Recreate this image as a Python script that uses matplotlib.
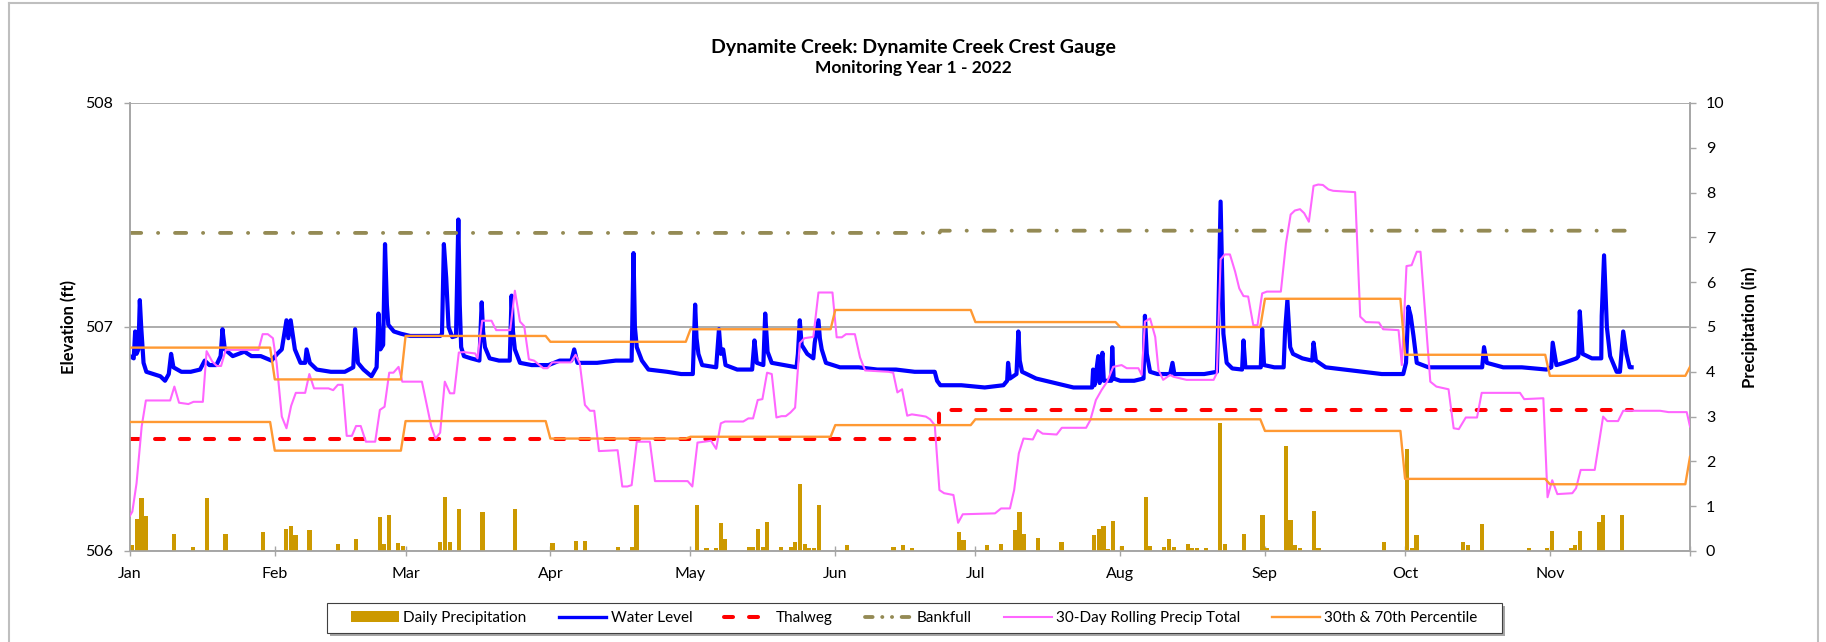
import numpy as np
import pandas as pd
import matplotlib
matplotlib.use("Agg")
import matplotlib.pyplot as plt
from matplotlib.patches import Patch, Rectangle
from matplotlib.lines import Line2D

plt.rcParams['font.family'] = ['Lato', 'DejaVu Sans']

# ---------------- data (day 0 = 2022-01-01) ----------------
title = "Dynamite Creek: Dynamite Creek Crest Gauge"
subtitle = "Monitoring Year 1 - 2022"
month_labels = ['Jan', 'Feb', 'Mar', 'Apr', 'May', 'Jun', 'Jul', 'Aug', 'Sep', 'Oct', 'Nov', '']
month_start_days = [0, 31, 59, 90, 120, 151, 181, 212, 243, 273, 304, 334]

# water level (ft) : (day, elevation)
water_level = [
    (0.0, 506.87), (0.8, 506.86), (1.1, 506.98), (1.4, 506.88), (1.8, 506.90), (2.1, 507.12), (2.4, 507.00),
    (2.9, 506.84), (3.5, 506.80), (5.0, 506.79), (6.5, 506.78), (7.5, 506.76), (8.3, 506.79), (8.8, 506.88),
    (9.3, 506.82), (11.0, 506.80), (13.0, 506.80), (15.0, 506.81), (16.0, 506.85), (17.0, 506.83), (18.5, 506.83),
    (19.4, 506.87), (19.8, 506.99), (20.3, 506.90), (22.0, 506.87), (24.5, 506.89), (26.0, 506.87), (28.0, 506.87),
    (30.3, 506.85), (31.5, 506.88), (32.5, 506.90), (33.5, 507.03), (33.9, 506.95), (34.4, 507.03), (35.3, 506.90),
    (36.5, 506.84), (37.5, 506.84), (37.8, 506.90), (38.5, 506.84), (40.0, 506.81), (43.0, 506.80), (46.0, 506.80),
    (47.8, 506.82), (48.2, 506.99), (48.8, 506.84), (50.0, 506.81), (51.7, 506.78), (52.8, 506.82), (53.2, 507.06),
    (53.6, 506.90), (54.2, 506.92), (54.6, 507.37), (55.0, 507.10), (55.3, 507.01), (56.5, 506.98), (58.0, 506.97),
    (60.0, 506.96), (63.0, 506.96), (66.4, 506.96), (66.8, 506.97), (67.2, 507.37), (67.7, 507.22), (68.2, 507.00),
    (69.0, 506.955), (69.8, 506.96), (70.3, 507.48), (70.6, 507.10), (70.9, 506.91), (71.5, 506.87), (73.0, 506.86),
    (74.8, 506.85), (75.3, 507.11), (75.6, 506.98), (76.0, 506.91), (77.0, 506.86), (79.0, 506.85), (81.3, 506.85),
    (81.7, 507.14), (82.0, 506.98), (82.4, 506.90), (83.5, 506.84), (86.0, 506.83), (89.6, 506.83), (92.0, 506.85),
    (94.5, 506.85), (95.1, 506.90), (95.8, 506.84), (100.0, 506.84), (104.0, 506.85), (107.4, 506.85), (107.8, 507.33),
    (108.1, 507.00), (108.5, 506.91), (109.6, 506.85), (111.0, 506.81), (115.0, 506.80), (118.0, 506.79),
    (120.5, 506.79), (121.0, 507.10), (121.3, 506.95), (121.7, 506.88), (122.5, 506.83), (125.5, 506.82),
    (126.1, 506.99), (126.5, 506.88), (127.0, 506.90), (127.5, 506.83), (130.0, 506.81), (133.2, 506.81),
    (133.7, 506.94), (134.2, 506.84), (135.6, 506.83), (136.0, 507.06), (136.5, 506.89), (137.4, 506.84),
    (140.0, 506.83), (142.7, 506.82), (143.0, 506.88), (143.4, 507.03), (143.8, 506.92), (145.0, 506.88),
    (146.3, 506.86), (146.6, 506.93), (147.4, 507.03), (147.7, 506.95), (148.1, 506.90), (149.0, 506.84),
    (152.0, 506.82), (156.0, 506.82), (160.0, 506.81), (164.0, 506.81), (168.0, 506.80), (172.3, 506.80),
    (172.8, 506.76), (173.5, 506.74), (178.0, 506.74), (183.0, 506.73), (187.0, 506.74), (187.8, 506.76),
    (188.0, 506.84), (188.4, 506.77), (189.8, 506.79), (190.2, 506.98), (190.5, 506.85), (191.0, 506.80),
    (194.0, 506.77), (198.0, 506.75), (202.0, 506.73), (206.0, 506.73), (206.2, 506.81), (206.5, 506.74),
    (207.3, 506.87), (207.6, 506.75), (208.2, 506.885), (208.5, 506.76), (210.1, 506.76), (210.3, 506.91),
    (210.6, 506.77), (212.0, 506.76), (215.0, 506.76), (217.0, 506.77), (217.3, 507.05), (217.7, 506.88),
    (218.4, 506.80), (220.0, 506.79), (222.7, 506.79), (223.2, 506.84), (223.6, 506.79), (227.0, 506.79),
    (230.0, 506.79), (232.7, 506.80), (233.0, 507.03), (233.5, 507.56), (234.1, 506.97), (234.8, 506.84),
    (236.0, 506.815), (238.1, 506.81), (238.4, 506.94), (238.8, 506.82), (242.1, 506.82), (242.4, 506.99),
    (242.8, 506.83), (245.0, 506.82), (247.0, 506.82), (247.3, 506.98), (247.8, 507.12), (248.4, 506.91),
    (249.0, 506.88), (251.0, 506.86), (253.1, 506.85), (253.4, 506.93), (253.9, 506.85), (256.0, 506.82),
    (260.0, 506.81), (264.0, 506.80), (268.0, 506.79), (272.6, 506.79), (273.2, 506.84), (273.7, 507.09),
    (274.2, 507.05), (274.8, 506.96), (275.5, 506.84), (278.0, 506.82), (282.0, 506.82), (286.0, 506.82),
    (289.5, 506.82), (289.9, 506.91), (290.5, 506.84), (294.0, 506.82), (298.0, 506.82), (303.3, 506.81),
    (304.3, 506.82), (304.6, 506.93), (305.4, 506.83), (307.0, 506.84), (309.7, 506.86), (310.1, 506.87),
    (310.4, 507.07), (311.0, 506.88), (313.0, 506.86), (315.0, 506.86), (315.1, 507.05), (315.6, 507.32),
    (316.2, 507.00), (316.9, 506.87), (318.3, 506.80), (319.0, 506.80), (319.7, 506.98), (320.4, 506.88),
    (321.1, 506.82), (321.5, 506.82),
]

# thalweg and bankfull elevations (ft)
thalweg_day = [0.0, 173.3, 173.3, 321.5]
thalweg_elev = [506.50, 506.50, 506.63, 506.63]
bankfull_day = [0.0, 173.3, 173.6, 321.5]
bankfull_elev = [507.42, 507.42, 507.43, 507.43]

# daily precipitation (in)
precip_day = [0, 1, 2, 3, 9, 13, 16, 20, 28, 33, 34, 35, 38, 44, 48, 53, 54, 55, 57, 58, 66, 67, 68, 70, 75, 82,
              90, 95, 97, 104, 107, 108, 121, 123, 125, 126, 127, 132, 133, 134, 135, 136, 139, 141, 142, 143, 144,
              145, 146, 147, 153, 163, 165, 167, 177, 178, 183, 186, 189, 190, 191, 194, 199, 206, 207, 208, 209,
              210, 212, 217, 218, 221, 222, 223, 226, 227, 228, 230, 233, 234, 238, 242, 243, 247, 248, 249, 250,
              253, 254, 268, 273, 274, 275, 285, 286, 289, 299, 303, 304, 308, 309, 310, 314, 315, 319]
precip_in = [0.13, 0.71, 1.18, 0.79, 0.37, 0.08, 1.18, 0.39, 0.43, 0.50, 0.55, 0.36, 0.47, 0.16, 0.27, 0.75, 0.16,
             0.80, 0.17, 0.12, 0.19, 1.20, 0.19, 0.94, 0.86, 0.94, 0.17, 0.23, 0.23, 0.08, 0.08, 1.02, 1.03, 0.06,
             0.06, 0.62, 0.26, 0.09, 0.09, 0.48, 0.08, 0.65, 0.08, 0.10, 0.19, 1.49, 0.16, 0.06, 0.06, 1.02, 0.13,
             0.08, 0.13, 0.07, 0.42, 0.24, 0.13, 0.16, 0.46, 0.86, 0.37, 0.28, 0.19, 0.36, 0.48, 0.56, 0.05, 0.67,
             0.11, 1.21, 0.12, 0.10, 0.27, 0.10, 0.15, 0.06, 0.06, 0.06, 2.85, 0.16, 0.37, 0.81, 0.07, 2.35, 0.69,
             0.13, 0.07, 0.90, 0.07, 0.19, 2.27, 0.06, 0.35, 0.21, 0.13, 0.60, 0.06, 0.06, 0.45, 0.06, 0.13, 0.45,
             0.64, 0.81, 0.81]

# 30-day rolling precipitation total (in) : (day, total)
rolling_total = [
    (0.0, 0.79), (0.5, 0.88), (1.4, 1.51), (2.5, 2.78), (3.4, 3.36), (8.6, 3.36), (9.5, 3.67), (10.5, 3.31),
    (12.5, 3.28), (13.6, 3.33), (15.6, 3.33), (16.4, 4.46), (17.6, 4.23), (18.6, 4.13), (19.5, 4.13), (20.5, 4.49),
    (27.5, 4.49), (28.4, 4.84), (29.5, 4.84), (30.6, 4.75), (31.4, 4.19), (32.5, 3.00), (33.5, 2.74), (34.5, 3.24),
    (35.5, 3.53), (37.5, 3.53), (38.4, 3.95), (39.4, 3.63), (42.5, 3.63), (43.5, 3.59), (44.5, 3.71), (45.5, 3.71),
    (46.4, 2.57), (47.5, 2.57), (48.4, 2.79), (49.4, 2.79), (50.5, 2.44), (52.5, 2.44), (53.5, 3.15), (54.5, 3.22),
    (55.5, 3.98), (56.4, 3.98), (57.5, 4.11), (58.3, 3.78), (62.5, 3.78), (64.5, 2.78), (65.4, 2.51), (66.4, 2.64),
    (67.4, 3.78), (68.5, 3.52), (69.4, 3.52), (70.4, 4.43), (71.4, 4.44), (73.9, 4.41), (74.4, 4.30), (75.4, 5.14),
    (77.4, 5.14), (78.4, 4.93), (81.4, 4.93), (82.4, 5.81), (83.5, 5.12), (84.4, 5.02), (85.4, 4.28), (86.5, 4.25),
    (88.5, 4.08), (89.4, 4.08), (90.4, 4.21), (94.4, 4.21), (95.4, 4.38), (96.3, 4.19), (97.4, 3.26), (98.5, 3.13),
    (99.4, 3.13), (100.4, 2.23), (104.4, 2.25), (105.4, 1.44), (106.5, 1.44), (107.4, 1.47), (108.5, 2.44),
    (111.3, 2.44), (112.4, 1.56), (119.4, 1.56), (120.4, 1.44), (121.5, 2.42), (124.4, 2.46), (125.5, 2.28),
    (126.5, 2.85), (127.4, 2.89), (131.3, 2.89), (132.4, 2.96), (133.4, 2.96), (134.4, 3.37), (135.4, 3.39),
    (136.4, 3.98), (137.4, 3.95), (138.4, 2.98), (139.5, 3.01), (140.4, 3.01), (141.4, 3.09), (142.4, 3.20),
    (143.4, 4.64), (144.4, 4.75), (146.3, 4.78), (147.4, 5.77), (150.4, 5.77), (151.3, 4.77), (152.4, 4.77),
    (153.3, 4.84), (155.2, 4.84), (156.3, 4.32), (157.4, 4.03), (162.4, 4.00), (163.4, 3.98), (164.3, 3.54),
    (165.3, 3.61), (166.4, 3.02), (167.4, 3.05), (169.3, 3.02), (170.4, 3.00), (171.3, 2.94), (172.3, 2.81),
    (173.3, 1.36), (174.3, 1.29), (176.3, 1.25), (177.3, 0.63), (178.3, 0.82), (185.2, 0.84), (186.5, 0.95),
    (188.4, 0.95), (189.3, 1.36), (190.3, 2.18), (191.3, 2.51), (193.3, 2.49), (194.3, 2.70), (195.4, 2.62),
    (198.4, 2.60), (199.5, 2.75), (204.7, 2.75), (205.6, 2.92), (206.8, 3.37), (208.0, 3.59), (209.2, 3.78),
    (210.5, 4.11), (212.3, 4.15), (213.4, 4.08), (215.9, 4.08), (216.6, 3.93), (217.3, 5.12), (218.4, 5.19),
    (219.5, 4.78), (220.2, 4.04), (221.2, 3.82), (222.7, 3.93), (223.4, 3.89), (226.2, 3.82), (232.0, 3.82),
    (232.7, 3.97), (233.5, 6.51), (234.4, 6.62), (235.5, 6.62), (236.6, 6.24), (237.5, 5.86), (238.4, 5.69),
    (239.4, 5.68), (240.5, 5.04), (241.4, 5.04), (242.4, 5.75), (243.4, 5.79), (246.4, 5.79), (247.5, 6.87),
    (248.5, 7.51), (249.4, 7.60), (250.5, 7.63), (251.4, 7.54), (252.4, 7.35), (253.4, 8.15), (254.4, 8.18),
    (255.4, 8.17), (256.6, 8.07), (257.6, 8.04), (262.3, 8.01), (263.4, 5.23), (264.6, 5.11), (267.4, 5.10),
    (268.3, 4.95), (271.6, 4.93), (272.3, 4.15), (273.3, 6.36), (274.4, 6.38), (275.5, 6.68), (276.3, 6.68),
    (278.4, 3.78), (279.7, 3.67), (282.3, 3.61), (283.4, 2.74), (284.5, 2.72), (286.0, 2.98), (288.4, 2.98),
    (289.4, 3.53), (297.6, 3.53), (298.5, 3.39), (302.6, 3.41), (303.5, 1.20), (304.5, 1.58), (305.6, 1.27),
    (308.8, 1.29), (309.6, 1.40), (310.6, 1.81), (313.6, 1.81), (315.4, 3.00), (316.3, 2.90), (318.6, 2.90),
    (319.7, 3.13), (327.6, 3.13), (329.4, 3.10), (333.3, 3.10), (334.0, 2.78),
]

# monthly 30th / 70th percentile of 30-day totals (in), Jan..Dec
pct70 = [4.54, 3.83, 4.80, 4.67, 4.95, 5.38, 5.11, 5.00, 5.63, 4.38, 3.91, 4.11]
pct30 = [2.88, 2.24, 2.90, 2.51, 2.55, 2.81, 2.94, 2.94, 2.68, 1.61, 1.49, 2.10]

# ---------------- helpers ----------------
T0 = pd.Timestamp('2022-01-01')
def to_dates(days):
    return T0 + pd.to_timedelta(np.asarray(days, dtype=float), unit='D')

W, H = 1826, 642
fig = plt.figure(figsize=(W / 100, H / 100), dpi=100)
ax = fig.add_axes([130 / W, 1 - 551 / H, 1560 / W, 448 / H])
ax2 = ax.twinx()

GRAY = '#A6A6A6'
C_BAR, C_WL, C_TH, C_BF, C_ROLL, C_PCT = '#CC9900', '#0000FF', '#FF0000', '#948A54', '#FF66FF', '#FF9933'

# primary axis: elevations
wl_d, wl_v = zip(*water_level)
ax.plot(to_dates(wl_d), wl_v, color=C_WL, lw=3.0, solid_joinstyle='round', zorder=3)
ax.plot(to_dates(thalweg_day), thalweg_elev, color=C_TH, lw=2.9, dashes=(2.24, 3.97),
        dash_capstyle='round', zorder=3)
ax.plot(to_dates(bankfull_day), bankfull_elev, color=C_BF, lw=2.75, dashes=(2.93, 4.4, 0.05, 4.4),
        dash_capstyle='round', zorder=3)

# secondary axis: precipitation
ax2.bar(to_dates(np.array(precip_day) + 0.45), precip_in, width=0.9, color=C_BAR, zorder=2)
r_d, r_v = zip(*rolling_total)
ax2.plot(to_dates(r_d), r_v, color=C_ROLL, lw=1.5, zorder=3)
daily = np.arange(0, 335)
midx = np.searchsorted(month_start_days, daily, side='right') - 1
ax2.plot(to_dates(daily), np.array(pct70)[midx], color=C_PCT, lw=1.7, zorder=4)
ax2.plot(to_dates(daily), np.array(pct30)[midx], color=C_PCT, lw=1.7, zorder=4)

# axes setup
ax.set_xlim(to_dates([0])[0], to_dates([334])[0])
ax.set_ylim(506, 508)
ax2.set_ylim(0, 10)
ax.set_yticks([506, 507, 508])
ax2.set_yticks(range(0, 11))
ax.set_xticks(to_dates(month_start_days))
ax.set_xticklabels(month_labels)

ax.yaxis.grid(True, color=GRAY, lw=1.3)
ax.set_axisbelow(True)
for a in (ax, ax2):
    for s in a.spines.values():
        s.set_color(GRAY)
        s.set_linewidth(1.2)
    a.spines['top'].set_visible(False)
ax.tick_params(axis='y', direction='out', length=4.5, width=1, color=GRAY, pad=8, labelsize=11.5)
ax2.tick_params(axis='y', direction='out', length=4.5, width=1, color=GRAY, pad=7, labelsize=11.5)
ax.tick_params(axis='x', direction='inout', length=7, width=1, color=GRAY, pad=8, labelsize=11.5)

ax.set_ylabel('Elevation (ft)', fontsize=12, fontweight='bold')
ax2.set_ylabel('Precipitation (in)', fontsize=12, fontweight='bold', rotation=90)
ax.yaxis.set_label_coords((77 - 130) / 1560, 0.5)
ax2.yaxis.set_label_coords((1741 - 130) / 1560, 0.5)

# titles
fig.text(0.5, 1 - 47 / H, title, ha='center', va='center', fontsize=14, fontweight='bold')
fig.text(0.5, 1 - 68 / H, subtitle, ha='center', va='center', fontsize=12.5, fontweight='bold')

# outer chart frame
for (x0, y0, x1, y1) in [(9, 3, 1818, 3), (9, 3, 9, 642), (1818, 3, 1818, 642)]:
    fig.add_artist(Line2D([x0 / W, x1 / W], [1 - y0 / H, 1 - y1 / H], transform=fig.transFigure,
                          color='#BFBFBF', lw=1.5))

# legend box with shadow
lx0, lx1, ly0, ly1 = 327, 1502, 603, 633
fig.add_artist(Rectangle(((lx0 + 3) / W, 1 - (ly1 + 3) / H), (lx1 - lx0) / W, (ly1 - ly0) / H,
                         transform=fig.transFigure, facecolor='#A6A6A6', edgecolor='none'))
fig.add_artist(Rectangle((lx0 / W, 1 - ly1 / H), (lx1 - lx0) / W, (ly1 - ly0) / H,
                         transform=fig.transFigure, facecolor='white', edgecolor='#404040', lw=0.8))
handles = [
    Patch(facecolor=C_BAR, edgecolor='none'),
    Line2D([], [], color=C_WL, lw=2.4),
    Line2D([], [], color=C_TH, lw=2.9, dashes=(2.24, 3.97), dash_capstyle='round'),
    Line2D([], [], color=C_BF, lw=2.75, dashes=(2.0, 2.5, 0.05, 2.5, 0.05, 2.5), dash_capstyle='round'),
    Line2D([], [], color=C_ROLL, lw=1.5),
    Line2D([], [], color=C_PCT, lw=1.7),
]
labels = ['Daily Precipitation', 'Water Level', 'Thalweg', 'Bankfull', '30-Day Rolling Precip Total',
          '30th & 70th Percentile']
fig.legend(handles, labels, loc='center', bbox_to_anchor=((lx0 + lx1) / 2 / W, 1 - (ly0 + ly1) / 2 / H),
           ncol=6, frameon=False, fontsize=11, handlelength=3.1, handleheight=0.7, handletextpad=0.3,
           columnspacing=2.1, borderpad=0.2)

fig.savefig('out.png', dpi=100)
